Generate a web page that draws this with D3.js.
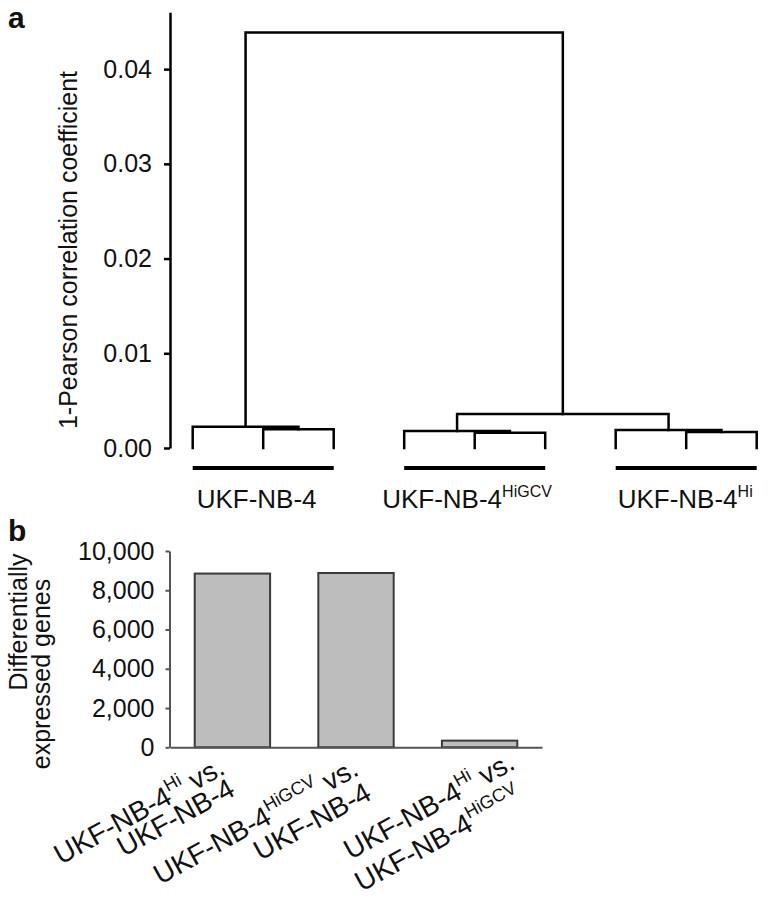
<!DOCTYPE html>
<html><head><meta charset="utf-8">
<script src="https://cdn.jsdelivr.net/npm/d3@7/dist/d3.min.js"></script>
<style>body{margin:0;background:#fff} svg text{font-family:"Liberation Sans",Arial,Helvetica,sans-serif;fill:#111}</style>
</head><body><svg id="c" width="768" height="912"></svg>
<script>
// ---------- Panel a: hierarchical clustering (dendrogram) ----------
const leafIds = ["L1","L2","L3","L4","L5","L6","L7","L8","L9"];
const mergeIds    = ["M1","M2","M3","M4","M5","M6","M7","M8"];
const mergeLeft   = ["L2","L1","L5","L4","L8","L7","M4","M2"];
const mergeRight  = ["L3","M1","L6","M3","L9","M5","M6","M7"];
const mergeHeight = [0.00197,0.00225,0.00161,0.00179,0.00169,0.00190,0.00359,0.04387];
const dendroTicks = [0,0.01,0.02,0.03,0.04];
const groupBase  = ["UKF-NB-4","UKF-NB-4","UKF-NB-4"];
const groupSup   = ["","HiGCV","Hi"];
const groupFirst = ["L1","L4","L7"];
const groupLast  = ["L3","L6","L9"];
const dendroTitle = "1-Pearson correlation coefficient";

// ---------- Panel b: differentially expressed genes ----------
const barCategories = ["Hi_vs_NB4","HiGCV_vs_NB4","Hi_vs_HiGCV"];
const barValues = [8850, 8880, 340];
const barTicks = [0,2000,4000,6000,8000,10000];
const barLine1Sup = ["Hi","HiGCV","Hi"];       // line 1: UKF-NB-4^sup vs.
const barLine2Sup = ["","","HiGCV"];           // line 2: UKF-NB-4^sup
const barTitle = ["Differentially","expressed genes"];

const svg = d3.select("#c");
const FONT = 25;

// ---- panel a ----
const yD = d3.scaleLinear().domain([0,0.046]).range([448,12.3]);
const xD = d3.scalePoint().domain(leafIds).range([192.7,756.7]);
const pos = {};
leafIds.forEach(id => pos[id] = {x:xD(id), h:0});
const gD = svg.append("g");
mergeIds.forEach((id,i) => {
  const a = pos[mergeLeft[i]], b = pos[mergeRight[i]], h = mergeHeight[i];
  pos[id] = {x:(a.x+b.x)/2, h:h};
  gD.append("path")
    .attr("d", `M${a.x},${yD(a.h)}V${yD(h)}H${b.x}V${yD(b.h)}`)
    .attr("fill","none").attr("stroke","#000").attr("stroke-width",2.5)
    .attr("stroke-linejoin","miter").attr("stroke-linecap","square");
});

const axD = svg.append("g").attr("transform","translate(170,0)")
  .call(d3.axisLeft(yD).tickValues(dendroTicks).tickFormat(d3.format(".2f"))
    .tickSize(6).tickPadding(12).tickSizeOuter(0));
axD.select(".domain").attr("stroke","#000").attr("stroke-width",2.5);
axD.selectAll(".tick line").attr("stroke","#000").attr("stroke-width",2.5);
axD.selectAll(".tick text").attr("font-size",FONT).attr("fill","#111")
  .attr("font-family",'"Liberation Sans",Arial,sans-serif');

svg.append("text").attr("transform","translate(77,250) rotate(-90)")
  .attr("text-anchor","middle").attr("font-size",FONT).text(dendroTitle);

const labelDx = [4,-22,2];
groupBase.forEach((g,i) => {
  const x0 = xD(groupFirst[i]), x1 = xD(groupLast[i]);
  svg.append("line").attr("x1",x0).attr("x2",x1).attr("y1",468).attr("y2",468)
    .attr("stroke","#000").attr("stroke-width",4);
  const t = svg.append("text").attr("x",x0+labelDx[i]).attr("y",508).attr("font-size",26);
  t.append("tspan").text(g);
  if (groupSup[i]) t.append("tspan").attr("font-size",16).attr("dy",-11).text(groupSup[i]);
});

svg.append("text").attr("x",8).attr("y",28).attr("font-size",30).attr("font-weight","bold").text("a");
svg.append("text").attr("x",8).attr("y",541).attr("font-size",30).attr("font-weight","bold").text("b");

// ---- panel b ----
const yB = d3.scaleLinear().domain([0,10000]).range([747.3,551]);
const xB = d3.scaleBand().domain(barCategories).range([170,542]).paddingInner(0.39).paddingOuter(0.2);

svg.append("g").selectAll("rect").data(barCategories).join("rect")
  .attr("x",d=>xB(d)).attr("width",xB.bandwidth())
  .attr("y",(d,i)=>yB(barValues[i])).attr("height",(d,i)=>yB(0)-yB(barValues[i]))
  .attr("fill","#bdbdbd").attr("stroke","#3a3a3a").attr("stroke-width",2);

const axB = svg.append("g").attr("transform","translate(169.5,0)")
  .call(d3.axisLeft(yB).tickValues(barTicks).tickFormat(d3.format(","))
    .tickSize(4).tickPadding(11).tickSizeOuter(0));
axB.select(".domain").attr("stroke","#555").attr("stroke-width",2);
axB.selectAll(".tick line").attr("stroke","#555").attr("stroke-width",2);
axB.selectAll(".tick text").attr("font-size",FONT).attr("fill","#111")
  .attr("font-family",'"Liberation Sans",Arial,sans-serif');

const axBx = svg.append("g").attr("transform",`translate(0,${yB(0)})`)
  .call(d3.axisBottom(xB).tickSize(0).tickFormat(""));
axBx.select(".domain").attr("stroke","#555").attr("stroke-width",2);

svg.append("text").attr("transform","translate(27,622) rotate(-90)")
  .attr("text-anchor","middle").attr("font-size",FONT).text(barTitle[0]);
svg.append("text").attr("transform","translate(50,674) rotate(-90)")
  .attr("text-anchor","middle").attr("font-size",FONT).text(barTitle[1]);

// rotated category labels (baseline start points relative to bar centre)
const l1Dx = [-171.7,-195.7,-129], l1Y = [865,885,860];
const l2Dx = [-108.7,-95.7,-118],  l2Y = [857,861,892];
const ANG = -29, LF = 28, SF = 18;
barCategories.forEach((c,i) => {
  const cx = xB(c) + xB.bandwidth()/2;
  const t1 = svg.append("text").attr("font-size",LF)
    .attr("transform",`translate(${cx+l1Dx[i]},${l1Y[i]}) rotate(${ANG})`);
  t1.append("tspan").text("UKF-NB-4");
  t1.append("tspan").attr("font-size",SF).attr("dy",-12).text(barLine1Sup[i]);
  t1.append("tspan").attr("dy",12).text(" vs.");
  const t2 = svg.append("text").attr("font-size",LF)
    .attr("transform",`translate(${cx+l2Dx[i]},${l2Y[i]}) rotate(${ANG})`);
  t2.append("tspan").text("UKF-NB-4");
  if (barLine2Sup[i]) t2.append("tspan").attr("font-size",SF).attr("dy",-12).text(barLine2Sup[i]);
});
</script></body></html>
